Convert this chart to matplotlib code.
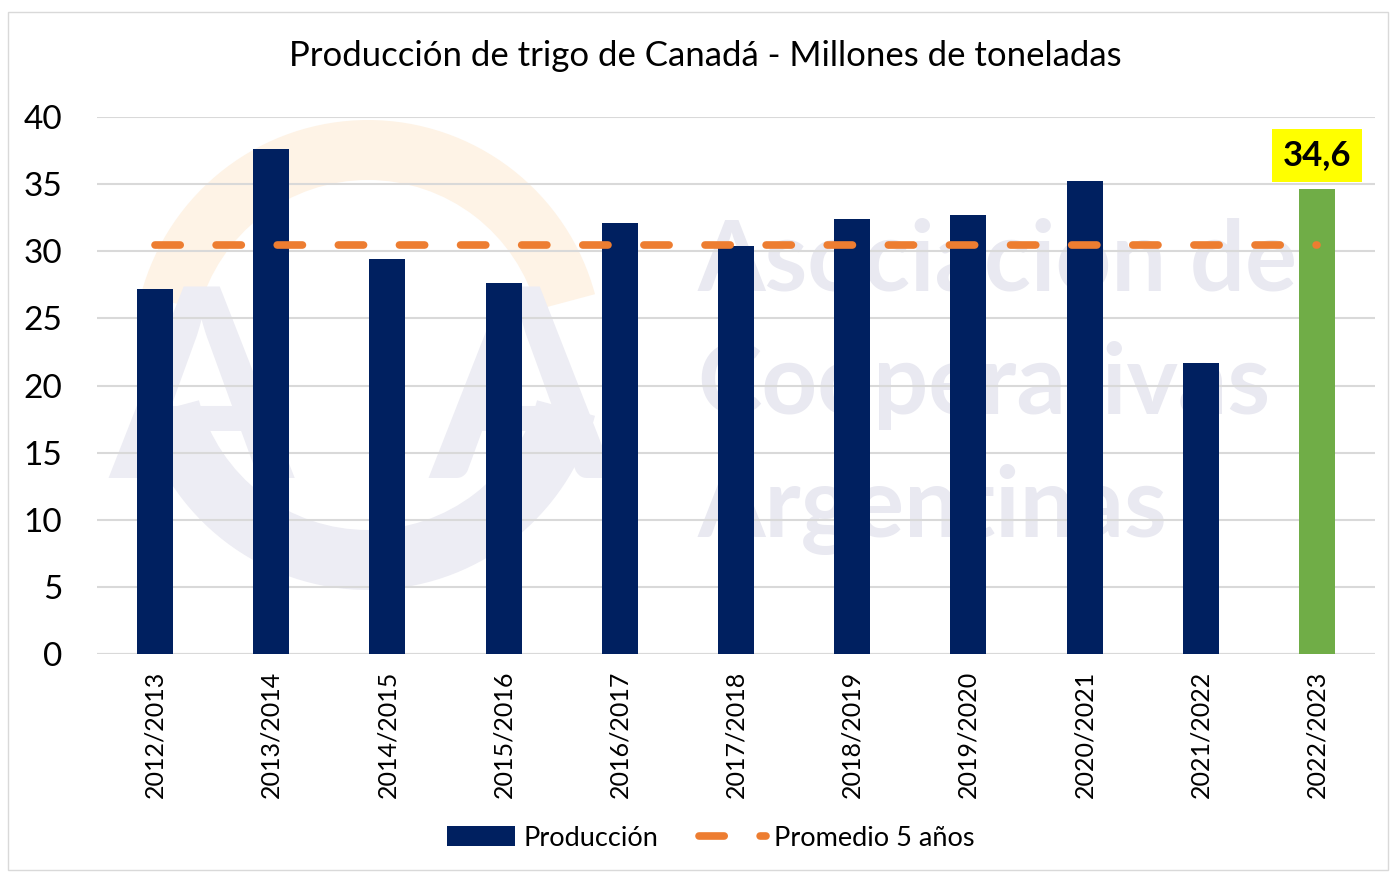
import matplotlib
matplotlib.use("Agg")
import matplotlib.pyplot as plt
from matplotlib.patches import Rectangle, Wedge, Patch
from matplotlib.lines import Line2D

plt.rcParams['font.family'] = ['Lato', 'DejaVu Sans']

campaigns = ["2012/2013", "2013/2014", "2014/2015", "2015/2016", "2016/2017",
             "2017/2018", "2018/2019", "2019/2020", "2020/2021", "2021/2022", "2022/2023"]
produccion = [27.2, 37.6, 29.4, 27.6, 32.1, 30.4, 32.4, 32.7, 35.2, 21.7, 34.6]
promedio_5 = [30.5] * len(campaigns)
label_last = "34,6"
yticks = [0, 5, 10, 15, 20, 25, 30, 35, 40]

navy = "#002060"
green = "#70AD47"
orange = "#ED7D31"
dash = (0, (3.3, 4.7))

fig = plt.figure(figsize=(13.93, 8.73), dpi=100)
fig.patches.append(Rectangle((8/1393, 3/873), 1380/1393, 858/873, transform=fig.transFigure,
                             fill=False, edgecolor="#D9D9D9", linewidth=1))

# faint logo ring (watermark)
W, H = 1393, 873
bg = fig.add_axes([0, 0, 1, 1], zorder=-1)
bg.set_xlim(0, W)
bg.set_ylim(H, 0)
bg.axis('off')
bg.add_patch(Wedge((368, 355), 235, 195, 345, width=60, facecolor="#FEF3E6", edgecolor='none'))
bg.add_patch(Wedge((368, 355), 235, 15, 165, width=60, facecolor="#EDEDF4", edgecolor='none'))

ax = fig.add_axes([97/1393, 1 - 654/873, 1278/1393, 537/873])
ax.patch.set_alpha(0)

x = list(range(len(campaigns)))
colors = [navy] * (len(campaigns) - 1) + [green]

wm = "#E9E9F1"
ax.text(0.47, 0.73, "Asociación de", transform=ax.transAxes, fontsize=70, fontweight='bold',
        color=wm, ha='left', va='center', zorder=0)
ax.text(0.47, 0.50, "Cooperativas", transform=ax.transAxes, fontsize=70, fontweight='bold',
        color=wm, ha='left', va='center', zorder=0)
ax.text(0.47, 0.27, "Argentinas", transform=ax.transAxes, fontsize=70, fontweight='bold',
        color=wm, ha='left', va='center', zorder=0)
ax.text(0.01, 0.47, "A", transform=ax.transAxes, fontsize=190, fontweight='bold',
        color="#EDEDF4", ha='left', va='center', zorder=0)
ax.text(0.26, 0.47, "A", transform=ax.transAxes, fontsize=190, fontweight='bold',
        color="#EDEDF4", ha='left', va='center', zorder=0)

ax.bar(x, produccion, width=0.31, color=colors, zorder=2)
ax.plot(x, promedio_5, color=orange, linewidth=5.5, linestyle=dash,
        dash_capstyle='round', zorder=3)

ax.set_xlim(-0.5, len(campaigns) - 0.5)
ax.set_ylim(0, 40)
ax.set_yticks(yticks)
ax.set_yticklabels([str(v) for v in yticks], fontsize=24)
ax.set_xticks(x)
ax.set_xticklabels(campaigns, rotation=90, fontsize=18)
ax.tick_params(axis='both', length=0)
ax.tick_params(axis='y', pad=25)
ax.tick_params(axis='x', pad=12)
ax.yaxis.grid(True, color="#D9D9D9", linewidth=1.5, zorder=0)
ax.set_axisbelow(True)
for s in ax.spines.values():
    s.set_visible(False)
ax.axhline(0, color="#D9D9D9", linewidth=1.5, zorder=1)

ax.annotate(label_last, xy=(x[-1], produccion[-1]), xytext=(0, 24.5), textcoords='offset points',
            ha='center', va='center', fontsize=25, fontweight='bold',
            bbox=dict(boxstyle='square,pad=0.3', facecolor='#FFFF00', edgecolor='none'), zorder=4)

fig.text(705/1393, 1 - 56/873, "Producción de trigo de Canadá - Millones de toneladas",
         ha='center', va='center', fontsize=25)

handles = [Patch(facecolor=navy, label="Producción"),
           Line2D([0], [0], color=orange, linewidth=5.5, linestyle=dash,
                  dash_capstyle='round', label="Promedio 5 años")]
fig.legend(handles=handles, loc='center', bbox_to_anchor=(711/1393, 1 - 838/873), ncol=2,
           frameon=False, fontsize=19.5, handlelength=2.5, handleheight=0.8,
           columnspacing=1.5, handletextpad=0.3)

fig.savefig("out.png", dpi=100)
